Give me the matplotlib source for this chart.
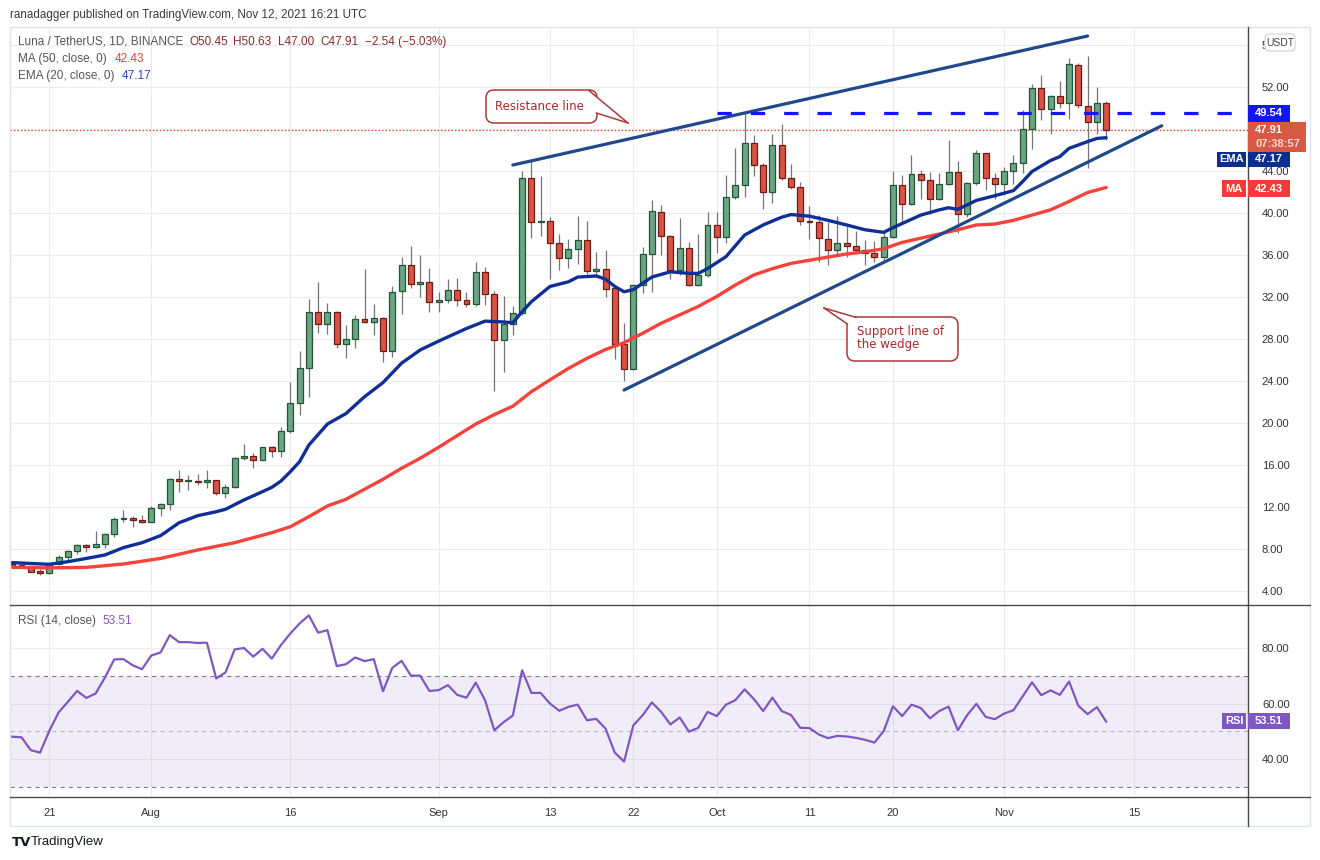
import numpy as np
import pandas as pd
import matplotlib
matplotlib.use("Agg")
from matplotlib import pyplot as plt
import matplotlib.dates as mdates
import matplotlib.transforms as mtrans
from matplotlib.patches import FancyBboxPatch, Polygon, Rectangle
from matplotlib.lines import Line2D

plt.rcParams['font.family'] = ['Liberation Sans', 'DejaVu Sans']
plt.rcParams['lines.scale_dashes'] = False

# ---- data ----
days = pd.date_range("2021-07-17", "2021-11-12", freq="D")

opens = [
    6.55, 6.42, 6.38, 5.88, 5.75, 6.55, 7.20, 7.80, 8.35, 8.15, 8.45, 9.40, 10.90, 10.95, 10.75,
    10.60, 11.90, 12.25, 14.65, 14.45, 14.50, 14.40, 14.55, 13.30, 13.90, 16.65, 16.85, 16.50, 17.70, 17.30,
    19.20, 21.90, 25.20, 30.60, 29.40, 30.60, 27.50, 28.00, 29.90, 29.60, 30.00, 26.90, 32.60, 35.00, 33.20, 33.40,
    31.50, 31.70, 32.70, 31.70, 31.30, 34.35, 32.30, 27.90, 29.40, 30.50, 43.30, 39.10, 39.20, 37.10, 35.70,
    36.60, 37.40, 34.45, 34.70, 32.90, 27.50, 25.10, 33.10, 36.10, 40.10, 37.80, 34.60, 36.70, 33.10, 34.05,
    38.85, 37.70, 41.50, 42.70, 46.70, 44.60, 42.00, 46.50, 43.30, 42.45, 39.20, 39.10, 37.50, 36.50, 37.10,
    36.90, 36.50, 36.15, 35.80, 37.70, 42.65, 40.90, 43.70, 43.10, 41.30, 42.80, 43.90, 39.90, 42.90, 45.70, 43.30,
    42.80, 44.00, 44.80, 48.00, 51.90, 49.90, 51.10, 50.50, 54.10, 50.15, 48.70, 50.45,
]
highs = [
    6.80, 6.75, 6.42, 6.05, 6.80, 7.40, 7.95, 8.50, 8.50, 9.70, 9.55, 11.05, 11.70, 11.10, 11.20,
    12.05, 12.35, 14.80, 15.50, 15.00, 15.10, 15.50, 14.60, 14.20, 16.80, 18.00, 17.10, 17.75, 17.80, 19.60,
    23.90, 26.90, 31.80, 33.40, 31.40, 30.70, 29.30, 30.30, 34.70, 31.30, 30.10, 33.00, 35.80, 36.90, 36.00, 34.80,
    32.50, 33.70, 33.80, 32.50, 35.30, 34.90, 32.60, 32.10, 31.10, 44.00, 45.05, 43.50, 39.60, 38.00, 37.50,
    39.70, 39.20, 36.30, 36.50, 32.95, 29.50, 33.20, 36.80, 41.20, 40.80, 37.90, 39.50, 37.20, 38.00, 40.10,
    40.10, 43.60, 46.20, 49.60, 47.40, 44.80, 47.50, 48.50, 44.70, 43.00, 40.70, 39.80, 39.10, 39.70, 38.80,
    38.30, 37.40, 37.30, 38.40, 44.00, 43.60, 45.50, 44.10, 43.90, 43.80, 46.95, 45.00, 42.95, 46.00, 45.75, 43.80,
    44.40, 45.50, 49.80, 52.30, 53.10, 51.20, 52.60, 54.80, 54.30, 55.00, 52.00, 50.63,
]
lows = [
    6.30, 6.30, 5.80, 5.55, 5.65, 6.50, 6.90, 7.50, 7.75, 8.10, 8.10, 9.10, 10.60, 10.05, 10.50,
    10.55, 11.10, 11.70, 13.40, 13.60, 14.10, 13.85, 13.15, 12.90, 13.80, 16.50, 15.75, 16.45, 16.80, 16.80,
    19.00, 20.80, 22.50, 28.60, 28.50, 27.10, 26.20, 27.10, 29.50, 28.40, 25.80, 26.30, 30.40, 32.90, 32.00, 30.60,
    30.60, 31.40, 31.10, 31.00, 31.10, 31.20, 23.00, 24.90, 28.40, 30.30, 37.60, 37.80, 33.70, 34.60, 34.80,
    35.10, 34.20, 34.00, 32.00, 26.10, 24.00, 25.00, 32.40, 32.50, 36.00, 33.70, 34.10, 33.00, 33.00, 33.90,
    36.20, 37.10, 41.30, 41.55, 43.50, 40.40, 40.95, 43.10, 42.30, 38.90, 37.50, 35.30, 35.00, 36.10, 35.80,
    36.10, 35.00, 35.35, 35.50, 37.60, 39.00, 40.80, 41.30, 39.95, 41.20, 42.70, 38.10, 39.60, 42.70, 42.20, 41.30,
    41.70, 42.80, 43.85, 46.05, 48.85, 47.50, 50.00, 49.00, 50.00, 44.26, 47.50, 47.00,
]
closes = [
    6.40, 6.38, 5.85, 5.75, 6.55, 7.20, 7.80, 8.35, 8.15, 8.45, 9.40, 10.90, 10.95, 10.75, 10.60,
    11.90, 12.25, 14.65, 14.45, 14.47, 14.40, 14.55, 13.30, 13.90, 16.65, 16.85, 16.50, 17.70, 17.30, 19.20,
    21.90, 25.20, 30.60, 29.40, 30.60, 27.50, 28.00, 29.90, 29.60, 30.00, 26.90, 32.50, 35.00, 33.20, 33.40, 31.50,
    31.70, 32.70, 31.70, 31.30, 34.35, 32.30, 27.90, 29.40, 30.50, 43.30, 39.10, 39.20, 37.10, 35.70, 36.60,
    37.40, 34.45, 34.70, 32.80, 27.50, 25.10, 33.10, 36.10, 40.20, 37.80, 34.60, 36.70, 33.10, 34.05, 38.85,
    37.70, 41.50, 42.70, 46.70, 44.60, 42.00, 46.50, 43.30, 42.45, 39.20, 39.10, 37.60, 36.50, 37.10, 36.90,
    36.50, 36.15, 35.80, 37.70, 42.65, 40.90, 43.70, 43.10, 41.30, 42.80, 43.90, 39.90, 42.90, 45.70, 43.30, 42.80,
    44.00, 44.80, 48.00, 51.90, 49.90, 51.10, 50.50, 54.20, 50.25, 48.70, 50.45, 47.91,
]
rsi = [
    48.1, 47.9, 43.3, 42.4, 50.2, 56.8, 60.6, 64.5, 62.0, 63.6, 69.3, 75.8, 75.9, 73.7, 72.3,
    77.2, 78.3, 84.5, 82.0, 82.0, 81.7, 81.8, 69.0, 71.1, 79.4, 79.9, 76.8, 79.6, 76.1, 81.0,
    85.1, 88.7, 91.6, 85.4, 86.3, 73.4, 74.1, 76.5, 75.2, 75.9, 64.4, 72.8, 75.3, 70.0, 70.0, 64.5,
    64.8, 66.6, 63.1, 62.1, 67.5, 61.2, 50.4, 53.3, 55.7, 71.9, 63.8, 63.8, 60.0, 57.4, 58.8,
    59.6, 54.0, 54.5, 51.0, 42.4, 39.2, 52.2, 55.8, 60.4, 57.0, 52.5, 55.0, 49.9, 51.3, 57.0,
    55.5, 59.6, 61.2, 65.1, 61.6, 57.3, 62.1, 57.3, 55.9, 51.3, 51.2, 48.9, 47.6, 48.4, 48.2,
    47.7, 47.0, 46.0, 50.1, 59.0, 55.5, 59.6, 58.4, 54.7, 57.3, 58.9, 50.4, 55.8, 59.9, 55.2, 54.4,
    56.4, 57.6, 62.6, 67.6, 63.0, 64.7, 63.1, 67.9, 59.2, 56.2, 58.7, 53.51,
]

ema_dates = ["2021-07-17", "2021-07-19", "2021-07-21", "2021-07-23", "2021-07-25", "2021-07-27",
             "2021-07-29", "2021-07-31", "2021-08-02", "2021-08-04", "2021-08-06", "2021-08-08",
             "2021-08-09", "2021-08-11", "2021-08-13", "2021-08-14", "2021-08-15", "2021-08-16",
             "2021-08-17", "2021-08-18", "2021-08-20", "2021-08-22", "2021-08-24", "2021-08-26",
             "2021-08-28", "2021-08-30", "2021-09-01", "2021-09-04", "2021-09-06", "2021-09-08",
             "2021-09-09", "2021-09-10", "2021-09-11", "2021-09-13", "2021-09-15", "2021-09-16",
             "2021-09-18", "2021-09-19", "2021-09-20", "2021-09-21", "2021-09-22", "2021-09-23",
             "2021-09-24", "2021-09-26", "2021-09-28", "2021-09-29", "2021-09-30", "2021-10-02",
             "2021-10-04", "2021-10-06", "2021-10-08", "2021-10-09", "2021-10-11", "2021-10-13",
             "2021-10-15", "2021-10-17", "2021-10-19", "2021-10-20", "2021-10-21", "2021-10-23",
             "2021-10-25", "2021-10-26", "2021-10-27", "2021-10-29", "2021-10-31", "2021-11-02",
             "2021-11-03", "2021-11-04", "2021-11-06", "2021-11-07", "2021-11-08", "2021-11-10",
             "2021-11-11", "2021-11-12"]
ema_vals = [6.70, 6.62, 6.54, 6.79, 7.10, 7.43, 8.13, 8.60, 9.27, 10.50, 11.17, 11.55,
            11.78, 12.67, 13.46, 13.87, 14.48, 15.36, 16.32, 17.90, 19.90, 20.90, 22.50, 23.85,
            25.70, 26.95, 27.80, 29.00, 29.70, 29.62, 29.55, 30.60, 31.55, 33.00, 33.45, 33.90,
            34.00, 33.70, 33.00, 32.50, 32.70, 33.30, 33.90, 34.40, 34.25, 34.25, 34.70, 35.85,
            37.90, 38.86, 39.60, 39.85, 39.70, 39.30, 38.86, 38.40, 38.16, 38.60, 39.00, 39.80,
            40.30, 40.50, 40.35, 41.20, 41.65, 42.13, 43.00, 43.95, 45.00, 45.37, 46.16, 46.80,
            47.10, 47.17]

ma_dates = ["2021-07-17", "2021-07-21", "2021-07-25", "2021-07-29", "2021-08-02", "2021-08-06",
            "2021-08-10", "2021-08-14", "2021-08-16", "2021-08-18", "2021-08-20", "2021-08-22",
            "2021-08-24", "2021-08-26", "2021-08-28", "2021-08-30", "2021-09-01", "2021-09-03",
            "2021-09-05", "2021-09-07", "2021-09-09", "2021-09-11", "2021-09-13", "2021-09-15",
            "2021-09-17", "2021-09-19", "2021-09-21", "2021-09-23", "2021-09-25", "2021-09-27",
            "2021-09-29", "2021-10-01", "2021-10-03", "2021-10-05", "2021-10-07", "2021-10-09",
            "2021-10-11", "2021-10-13", "2021-10-15", "2021-10-17", "2021-10-19", "2021-10-21",
            "2021-10-23", "2021-10-25", "2021-10-27", "2021-10-29", "2021-10-31", "2021-11-02",
            "2021-11-04", "2021-11-06", "2021-11-08", "2021-11-10", "2021-11-12"]
ma_vals = [6.25, 6.20, 6.25, 6.57, 7.10, 7.90, 8.60, 9.55, 10.12, 11.08, 12.10, 12.73,
           13.69, 14.64, 15.69, 16.64, 17.69, 18.80, 19.90, 20.80, 21.60, 22.98, 24.10, 25.20,
           26.16, 27.00, 27.65, 28.54, 29.50, 30.30, 31.10, 32.05, 33.14, 34.10, 34.70, 35.20,
           35.50, 35.80, 36.10, 36.30, 36.60, 37.20, 37.60, 38.00, 38.40, 38.86, 38.95, 39.30,
           39.80, 40.30, 41.10, 41.95, 42.43]

resistance_dates = ["2021-09-09", "2021-11-10"]
resistance_vals = [44.57, 56.86]
support_dates = ["2021-09-21", "2021-11-18"]
support_vals = [23.14, 48.31]
level_start = "2021-10-01"
level_price = 49.54
last_price = 47.91
ma_last = 42.43
ema_last = 47.17
rsi_last = 53.51

price_ticks = np.arange(4, 57, 4)
# 48.00 sits under the last-price tag and 56.00 under the USDT badge, as in the original
price_labels = ["" if v == 48 else "5" if v == 56 else f"{v:.2f}" for v in price_ticks]
rsi_ticks = [40, 60, 80]
time_ticks = ["2021-07-21", "2021-08-01", "2021-08-16", "2021-09-01", "2021-09-13", "2021-09-22",
              "2021-10-01", "2021-10-11", "2021-10-20", "2021-11-01", "2021-11-15"]
time_labels = ["21", "Aug", "16", "Sep", "13", "22", "Oct", "11", "20", "Nov", "15"]

# ---- figure ----
W, H = 1320, 860
fig = plt.figure(figsize=(W / 100, H / 100), dpi=100)
px = mtrans.Affine2D().scale(1, -1).translate(0, H)   # pixel coords, origin top-left


def frac(x0, y0, x1, y1):
    return [x0 / W, 1 - y1 / H, (x1 - x0) / W, (y1 - y0) / H]


ax = fig.add_axes(frac(10, 28, 1248, 604))
rax = fig.add_axes(frac(10, 606, 1248, 797))

t = mdates.date2num(days)
xlo, xhi = t[0] - 0.24, t[0] + 133.3
tick_nums = mdates.date2num(pd.to_datetime(time_ticks))

grid_c = '#ececec'
label_c = '#333333'

o = np.array(opens)
c = np.array(closes)
up = c >= o
body_lo = np.minimum(o, c)
body_h = np.maximum(np.abs(c - o), 0.08)

ax.vlines(t, lows, highs, color='#757575', lw=0.9, zorder=2)
ax.bar(t[up], body_h[up], bottom=body_lo[up], width=0.64, color='#6ba583',
       edgecolor='#225437', lw=0.9, zorder=3)
ax.bar(t[~up], body_h[~up], bottom=body_lo[~up], width=0.64, color='#d75442',
       edgecolor='#6f1a1a', lw=0.9, zorder=3)

ax.plot(mdates.date2num(pd.to_datetime(ma_dates)), ma_vals, color='#f5423a', lw=2.4,
        zorder=4, solid_capstyle='round')
ax.plot(mdates.date2num(pd.to_datetime(ema_dates)), ema_vals, color='#0f2f96', lw=2.4,
        zorder=4, solid_capstyle='round')

ax.plot(mdates.date2num(pd.to_datetime(resistance_dates)), resistance_vals, color='#21488a',
        lw=2.3, zorder=5, solid_capstyle='round')
ax.plot(mdates.date2num(pd.to_datetime(support_dates)), support_vals, color='#21488a',
        lw=2.3, zorder=5, solid_capstyle='round')

ax.hlines(level_price, mdates.date2num(pd.Timestamp(level_start)), xhi, color='#1414ff',
          lw=2.3, linestyles=[(0, (10.3, 13.7))], zorder=5)
ax.axhline(last_price, color='#e5483a', lw=0.9, ls=(0, (1.1, 1.4)), zorder=1)

ax.set_xlim(xlo, xhi)
ax.set_ylim(2.76, 57.62)
ax.set_xticks(tick_nums)
ax.set_yticks(price_ticks)
ax.set_yticklabels(price_labels)
ax.yaxis.tick_right()
ax.tick_params(axis='x', length=0, labelbottom=False)
ax.tick_params(axis='y', length=0, pad=10, labelsize=8, labelcolor=label_c)
ax.grid(True, color=grid_c, lw=0.8)
ax.set_axisbelow(True)
for s in ax.spines.values():
    s.set_visible(False)

# RSI panel
rax.axhspan(30, 70, color='#7e57c2', alpha=0.1, lw=0)
rax.axhline(70, color='#787b86', lw=0.8, ls=(0, (3, 3)))
rax.axhline(30, color='#787b86', lw=0.8, ls=(0, (3, 3)))
rax.axhline(50, color='#b9b3c9', lw=0.8, ls=(0, (3, 3)))
rax.plot(t, rsi, color='#7e57c2', lw=1.6, zorder=4)
rax.set_xlim(xlo, xhi)
rax.set_ylim(26.5, 94.95)
rax.set_yticks(rsi_ticks)
rax.yaxis.set_major_formatter(matplotlib.ticker.FormatStrFormatter('%.2f'))
rax.yaxis.tick_right()
rax.set_xticks(tick_nums)
rax.set_xticklabels(time_labels)
rax.tick_params(axis='x', length=0, pad=8, labelsize=8, labelcolor=label_c)
rax.tick_params(axis='y', length=0, pad=10, labelsize=8, labelcolor=label_c)
rax.grid(True, color=grid_c, lw=0.8)
rax.set_axisbelow(True)
for s in rax.spines.values():
    s.set_visible(False)

# ---- chart chrome ----
fig.add_artist(Rectangle((10, 27), 1300, 799, transform=px, fill=False, ec='#e0e3eb', lw=1))
for xs, ys in [([1248, 1248], [27, 826]), ([10, 1310], [605, 605]), ([10, 1310], [797, 797])]:
    fig.add_artist(Line2D(xs, ys, transform=px, color='#4a4a4a', lw=1))

fig.text(10, 15, "ranadagger published on TradingView.com, Nov 12, 2021 16:21 UTC",
         transform=px, fontsize=8.4, color='#3a3a3a', va='center')
hdr = dict(transform=px, fontsize=8.5, va='center')
fig.text(18, 42, "Luna / TetherUS, 1D, BINANCE", color='#555555', **hdr)
for xpos, s in [(189, "O50.45"), (233, "H50.63"), (278, "L47.00"), (320, "C47.91"),
                (365, "\u22122.54 (\u22125.03%)")]:
    fig.text(xpos, 42, s, color='#8a2b2b', **hdr)
fig.text(18, 59, "MA (50, close, 0)", color='#555555', **hdr)
fig.text(115, 59, f"{ma_last:.2f}", color='#f23d3d', **hdr)
fig.text(18, 76, "EMA (20, close, 0)", color='#555555', **hdr)
fig.text(122, 76, f"{ema_last:.2f}", color='#2a47b8', **hdr)
fig.text(18, 621, "RSI (14, close)", color='#555555', **hdr)
fig.text(102, 621, f"{rsi_last:.2f}", color='#7e57c2', **hdr)


def tag(x0, y0, x1, y1, color, text, tc='white', size=8):
    fig.add_artist(Rectangle((x0, y0), x1 - x0, y1 - y0, transform=px, color=color, lw=0, zorder=10))
    fig.text((x0 + x1) / 2, (y0 + y1) / 2, text, transform=px, color=tc, fontsize=size,
             ha='center', va='center', fontweight='bold', zorder=11)


fig.add_artist(FancyBboxPatch((1265, 34), 30, 17, boxstyle="round,pad=0,rounding_size=4",
                              transform=px, fc='white', ec='#cfd2da', lw=0.8, zorder=10))
fig.text(1280, 42.5, "USDT", transform=px, fontsize=7.5, color='#444444', ha='center',
         va='center', zorder=11)
tag(1248, 105, 1290, 122, '#1414ff', f"{level_price:.2f}")
fig.add_artist(Rectangle((1248, 122), 58, 30, transform=px, color='#d85843', lw=0, zorder=10))
fig.text(1255, 130, f"{last_price:.2f}", transform=px, color='white', fontsize=8,
         fontweight='bold', va='center', zorder=11)
fig.text(1255, 144, "07:38:57", transform=px, color='#f7d8d2', fontsize=8,
         fontweight='bold', va='center', zorder=11)
tag(1217, 152, 1246, 167, '#0c2f8e', "EMA")
tag(1248, 152, 1290, 167, '#0c2f8e', f"{ema_last:.2f}")
tag(1222, 180, 1246, 197, '#f23c3c', "MA")
tag(1248, 180, 1290, 197, '#f23c3c', f"{ma_last:.2f}")
tag(1222, 713, 1246, 729, '#7e57c2', "RSI")
tag(1248, 713, 1290, 729, '#7e57c2', f"{rsi_last:.2f}")


def callout(box, tip, base, lines, tx, ty):
    x0, y0, x1, y1 = box
    edge = '#ab3a3a'
    fig.add_artist(FancyBboxPatch((x0, y0), x1 - x0, y1 - y0, boxstyle="round,pad=0,rounding_size=8",
                                  transform=px, fc='white', ec=edge, lw=1.1, zorder=12))
    fig.add_artist(Polygon([base[0], tip, base[1]], closed=True, transform=px, fc='white',
                           ec='none', zorder=13))
    for b in base:
        fig.add_artist(Line2D([b[0], tip[0]], [b[1], tip[1]], transform=px, color=edge, lw=1.1,
                              zorder=14))
    fig.text(tx, ty, "\n".join(lines), transform=px, family='DejaVu Sans', fontsize=8.5,
             color='#a52a2a', va='center', ha='left', linespacing=1.05, zorder=15)


callout((486, 90, 597, 123), (628, 123), [(589, 90.6), (596.4, 113)], ["Resistance line"], 495, 106.5)
callout((847, 317, 958, 361), (824, 308), [(856, 317.4), (847.4, 324)],
        ["Support line of", "the wedge"], 857, 338)

fig.text(12, 842, "TV", transform=px, fontsize=9.5, fontweight='bold', color='#131722',
         family='DejaVu Sans', va='center')
fig.text(31, 842, "TradingView", transform=px, fontsize=9.5, color='#131722', va='center')

fig.savefig("out.png", dpi=100)
